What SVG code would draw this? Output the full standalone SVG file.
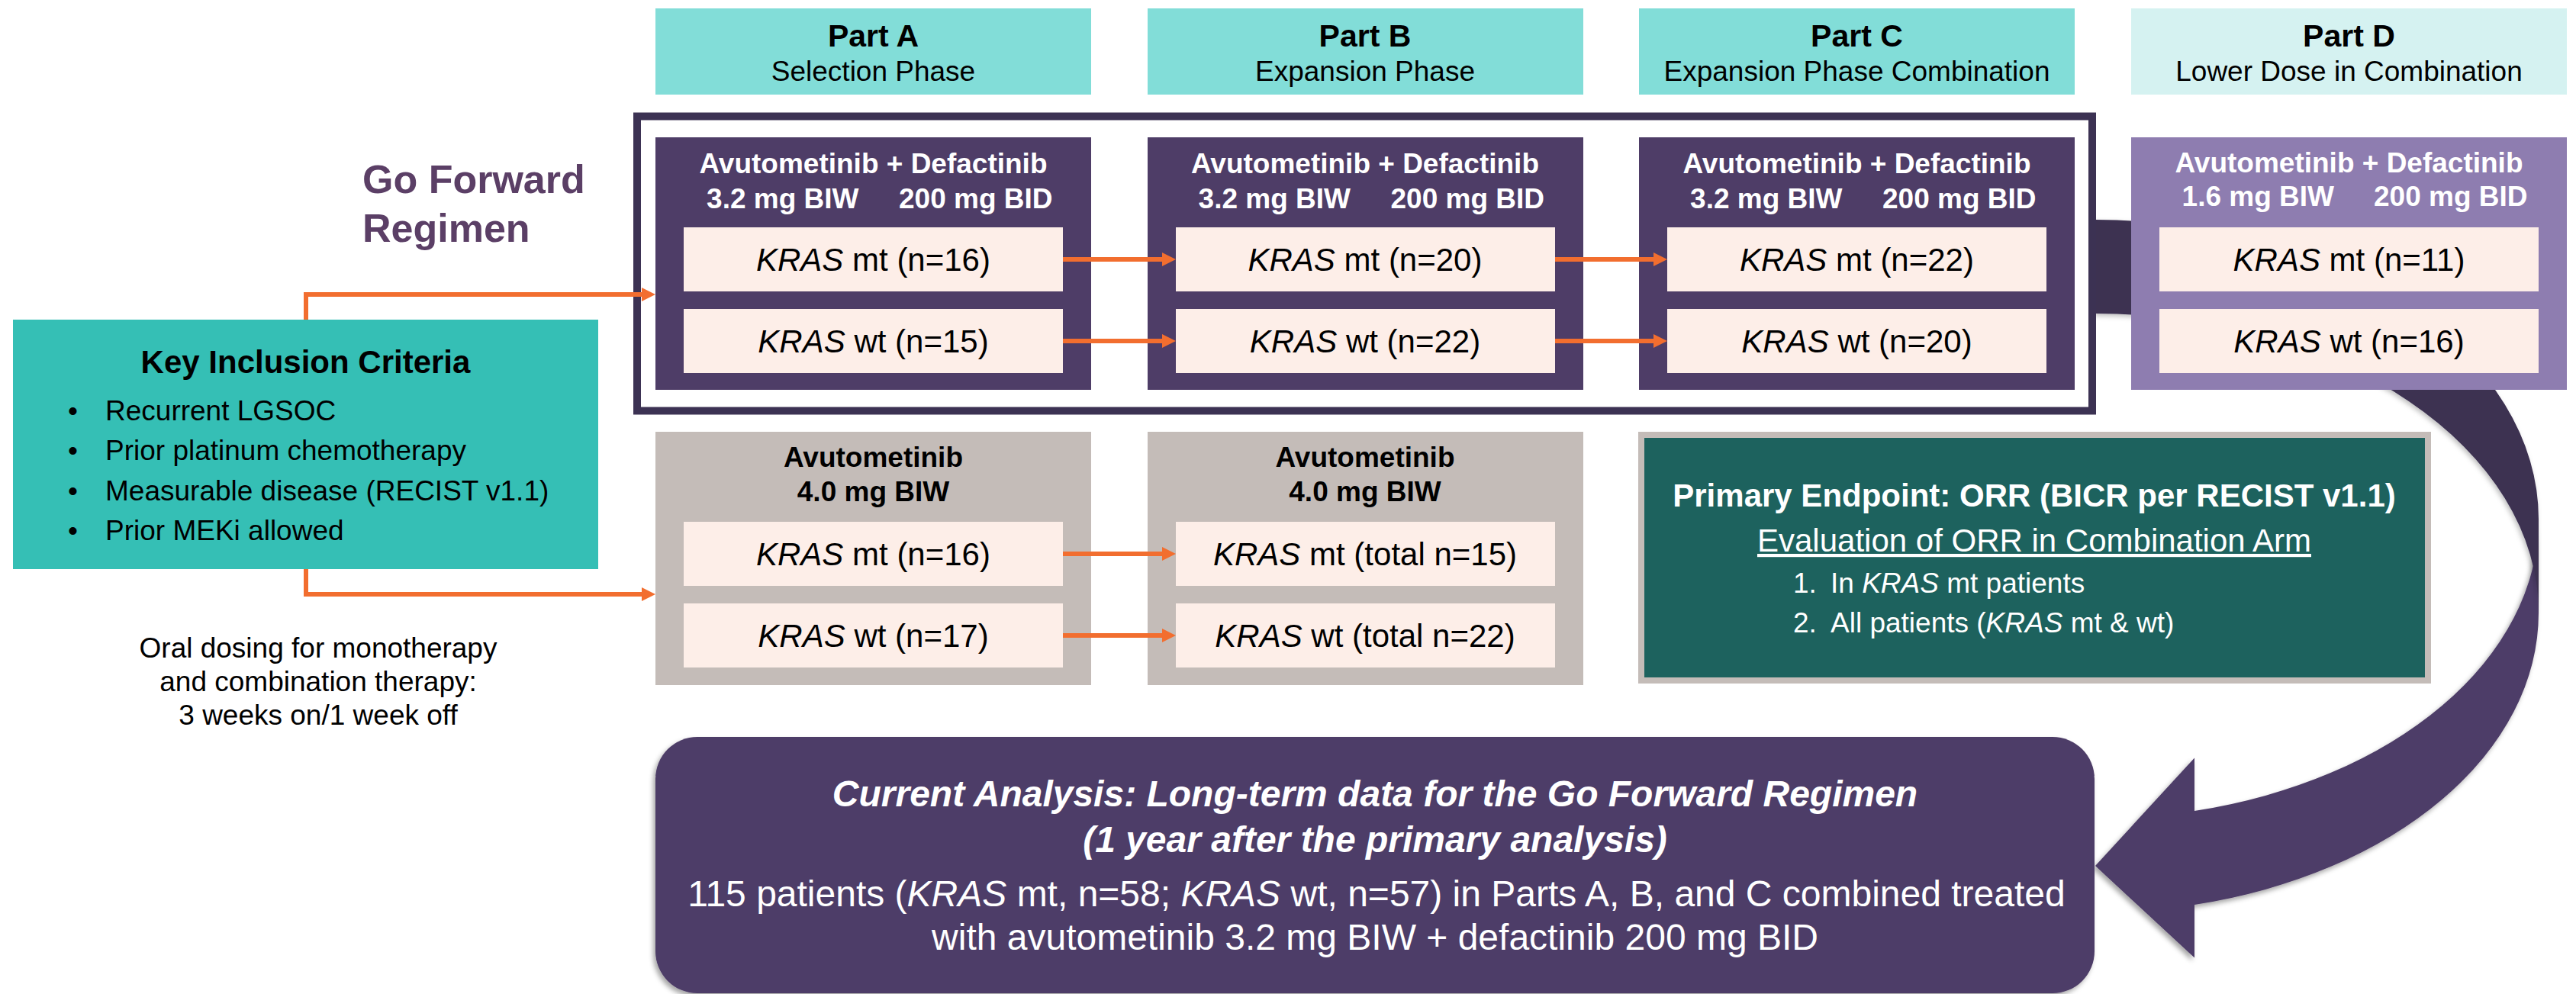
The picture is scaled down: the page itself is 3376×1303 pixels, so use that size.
<svg xmlns="http://www.w3.org/2000/svg" width="3376" height="1303" viewBox="0 0 3376 1303">
<defs>
<style>
text { font-family: "Liberation Sans", Arial, Helvetica, sans-serif; }
.hdr { fill: #82DDD8; }
.hdrD { fill: #D5F2F1; }
.tt { font-size: 41px; font-weight: bold; fill: #000; text-anchor: middle; }
.ts { font-size: 37px; fill: #000; text-anchor: middle; }
.dark { fill: #4E3D67; }
.lav { fill: #8E7DB0; }
.gray { fill: #C4BCB8; }
.inner { fill: #FDEEE8; }
.drug { font-size: 37px; font-weight: bold; fill: #fff; text-anchor: middle; }
.dl { font-size: 37px; font-weight: bold; fill: #fff; text-anchor: end; }
.dr { font-size: 37px; font-weight: bold; fill: #fff; text-anchor: start; }
.mono { font-size: 37px; font-weight: bold; fill: #000; text-anchor: middle; }
.kras { font-size: 42px; fill: #000; text-anchor: middle; }
.it { font-style: italic; }
.conn { stroke: #F26E2F; stroke-width: 6; fill: none; }
.bul { font-size: 37px; fill: #000; }
.wt { fill: #fff; }
</style>
<marker id="ah" markerUnits="userSpaceOnUse" viewBox="0 0 18 18" markerWidth="18" markerHeight="18" refX="6" refY="9" orient="auto">
<path d="M0,0 L18,9 L0,18 Z" fill="#F26E2F"/>
</marker>
<filter id="sh" x="-5%" y="-5%" width="110%" height="115%">
<feDropShadow dx="-3" dy="4" stdDeviation="3" flood-color="#000" flood-opacity="0.35"/>
</filter>
<filter id="sh2" x="-5%" y="-5%" width="110%" height="115%">
<feDropShadow dx="-2" dy="3" stdDeviation="3" flood-color="#000" flood-opacity="0.25"/>
</filter>
</defs>

<!-- big curved arrow -->
<g id="curved-arrow">
<path d="M2876,1063 A581,392.5 0 0 0 3327,680.5 L3327,803.5 A581,392.5 0 0 1 2876,1186 L2876,1255.5 L2746,1135 L2876,993.5 Z" fill="#4E3D67" filter="url(#sh)"/>
<path d="M2746,288 A581,392.5 0 0 1 3327,680.5 L3327,803.5 A581,392.5 0 0 0 2746,411 Z" fill="#3C3151" filter="url(#sh2)"/>
</g>

<!-- headers -->
<g id="hdr-a"><rect class="hdr" x="859" y="11" width="571" height="113"/><text class="tt" x="1144.5" y="61">Part A</text><text class="ts" x="1144.5" y="106">Selection Phase</text></g>
<g id="hdr-b"><rect class="hdr" x="1504" y="11" width="571" height="113"/><text class="tt" x="1789" y="61">Part B</text><text class="ts" x="1789" y="106">Expansion Phase</text></g>
<g id="hdr-c"><rect class="hdr" x="2148" y="11" width="571" height="113"/><text class="tt" x="2433.5" y="61">Part C</text><text class="ts" x="2433.5" y="106">Expansion Phase Combination</text></g>
<g id="hdr-d"><rect class="hdrD" x="2793" y="11" width="571" height="113"/><text class="tt" x="3078.5" y="61">Part D</text><text class="ts" x="3078.5" y="106">Lower Dose in Combination</text></g>

<!-- go forward frame -->
<g id="go-forward-frame"><rect x="835" y="152.5" width="1907" height="386" fill="none" stroke="#3C3253" stroke-width="10"/></g>
<g id="go-forward-label">
<text x="475" y="253" font-size="52" font-weight="bold" fill="#5B3F66">Go Forward</text>
<text x="475" y="317" font-size="52" font-weight="bold" fill="#5B3F66">Regimen</text>
</g>

<!-- Part A combo -->
<g id="a-combo">
<rect class="dark" x="859" y="180" width="571" height="331"/>
<text class="drug" x="1144.5" y="227">Avutometinib + Defactinib</text>
<text class="dl" x="1125.5" y="272.5">3.2 mg BIW</text><text class="dr" x="1178" y="272.5">200 mg BID</text>
<rect class="inner" x="896" y="298" width="497" height="84"/>
<text class="kras" x="1144.5" y="355"><tspan class="it">KRAS</tspan> mt (n=16)</text>
<rect class="inner" x="896" y="405" width="497" height="84"/>
<text class="kras" x="1144.5" y="462"><tspan class="it">KRAS</tspan> wt (n=15)</text>
</g>
<g id="b-combo">
<rect class="dark" x="1504" y="180" width="571" height="331"/>
<text class="drug" x="1789" y="227">Avutometinib + Defactinib</text>
<text class="dl" x="1770" y="272.5">3.2 mg BIW</text><text class="dr" x="1822.5" y="272.5">200 mg BID</text>
<rect class="inner" x="1541" y="298" width="497" height="84"/>
<text class="kras" x="1789" y="355"><tspan class="it">KRAS</tspan> mt (n=20)</text>
<rect class="inner" x="1541" y="405" width="497" height="84"/>
<text class="kras" x="1789" y="462"><tspan class="it">KRAS</tspan> wt (n=22)</text>
</g>
<g id="c-combo">
<rect class="dark" x="2148" y="180" width="571" height="331"/>
<text class="drug" x="2433.5" y="227">Avutometinib + Defactinib</text>
<text class="dl" x="2414.5" y="272.5">3.2 mg BIW</text><text class="dr" x="2467" y="272.5">200 mg BID</text>
<rect class="inner" x="2185" y="298" width="497" height="84"/>
<text class="kras" x="2433.5" y="355"><tspan class="it">KRAS</tspan> mt (n=22)</text>
<rect class="inner" x="2185" y="405" width="497" height="84"/>
<text class="kras" x="2433.5" y="462"><tspan class="it">KRAS</tspan> wt (n=20)</text>
</g>
<g id="d-combo">
<rect class="lav" x="2793" y="180" width="571" height="331"/>
<text class="drug" x="3078.5" y="226">Avutometinib + Defactinib</text>
<text class="dl" x="3059" y="270">1.6 mg BIW</text><text class="dr" x="3111" y="270">200 mg BID</text>
<rect class="inner" x="2830" y="298" width="497" height="84"/>
<text class="kras" x="3078.5" y="355"><tspan class="it">KRAS</tspan> mt (n=11)</text>
<rect class="inner" x="2830" y="405" width="497" height="84"/>
<text class="kras" x="3078.5" y="462"><tspan class="it">KRAS</tspan> wt (n=16)</text>
</g>

<!-- monotherapy -->
<g id="a-mono">
<rect class="gray" x="859" y="566" width="571" height="332"/>
<text class="mono" x="1144.5" y="612">Avutometinib</text>
<text class="mono" x="1144.5" y="657">4.0 mg BIW</text>
<rect class="inner" x="896" y="684" width="497" height="84"/>
<text class="kras" x="1144.5" y="741"><tspan class="it">KRAS</tspan> mt (n=16)</text>
<rect class="inner" x="896" y="791" width="497" height="84"/>
<text class="kras" x="1144.5" y="848"><tspan class="it">KRAS</tspan> wt (n=17)</text>
</g>
<g id="b-mono">
<rect class="gray" x="1504" y="566" width="571" height="332"/>
<text class="mono" x="1789" y="612">Avutometinib</text>
<text class="mono" x="1789" y="657">4.0 mg BIW</text>
<rect class="inner" x="1541" y="684" width="497" height="84"/>
<text class="kras" x="1789" y="741"><tspan class="it">KRAS</tspan> mt (total n=15)</text>
<rect class="inner" x="1541" y="791" width="497" height="84"/>
<text class="kras" x="1789" y="848"><tspan class="it">KRAS</tspan> wt (total n=22)</text>
</g>

<!-- endpoint -->
<g id="endpoint">
<rect x="2147" y="566" width="1039" height="330" fill="#C4BCB8"/>
<rect x="2155" y="574" width="1023" height="314" fill="#1D625E"/>
<text class="wt" x="2666" y="664" font-size="42" font-weight="bold" text-anchor="middle">Primary Endpoint: ORR (BICR per RECIST v1.1)</text>
<text class="wt" x="2666" y="723" font-size="42" text-anchor="middle" text-decoration="underline">Evaluation of ORR in Combination Arm</text>
<text class="wt" x="2350" y="777" font-size="37">1.</text>
<text class="wt" x="2399" y="777" font-size="37">In <tspan class="it">KRAS</tspan> mt patients</text>
<text class="wt" x="2350" y="829" font-size="37">2.</text>
<text class="wt" x="2399" y="829" font-size="37">All patients (<tspan class="it">KRAS</tspan> mt &amp; wt)</text>
</g>

<!-- key inclusion -->
<g id="key-inclusion">
<rect x="17" y="419" width="767" height="327" fill="#35BFB5"/>
<text x="400.5" y="489" font-size="42" font-weight="bold" text-anchor="middle">Key Inclusion Criteria</text>
<text class="bul" x="89" y="551">•</text><text class="bul" x="138" y="551">Recurrent LGSOC</text>
<text class="bul" x="89" y="603">•</text><text class="bul" x="138" y="603">Prior platinum chemotherapy</text>
<text class="bul" x="89" y="656">•</text><text class="bul" x="138" y="656">Measurable disease (RECIST v1.1)</text>
<text class="bul" x="89" y="708">•</text><text class="bul" x="138" y="708">Prior MEKi allowed</text>
</g>

<g id="dosing-note">
<text class="ts" x="417" y="862">Oral dosing for monotherapy</text>
<text class="ts" x="417" y="906">and combination therapy:</text>
<text class="ts" x="417" y="950">3 weeks on/1 week off</text>
</g>

<!-- current analysis -->
<g id="current-analysis">
<rect x="859" y="966" width="1886" height="336" rx="55" ry="55" fill="#4E3D67" filter="url(#sh)"/>
<text class="wt" x="1802" y="1057" font-size="48" font-weight="bold" font-style="italic" text-anchor="middle">Current Analysis: Long-term data for the Go Forward Regimen</text>
<text class="wt" x="1802" y="1117" font-size="48" font-weight="bold" font-style="italic" text-anchor="middle">(1 year after the primary analysis)</text>
<text class="wt" x="1804" y="1188" font-size="48" text-anchor="middle">115 patients (<tspan class="it">KRAS</tspan> mt, n=58; <tspan class="it">KRAS</tspan> wt, n=57) in Parts A, B, and C combined treated</text>
<text class="wt" x="1802" y="1245" font-size="48" text-anchor="middle">with avutometinib 3.2 mg BIW + defactinib 200 mg BID</text>
</g>

<!-- connectors -->
<g id="connectors">
<path class="conn" d="M401,419 V386 H847" marker-end="url(#ah)"/>
<path class="conn" d="M401,746 V779 H847" marker-end="url(#ah)"/>
<path class="conn" d="M1393,340 H1529" marker-end="url(#ah)"/>
<path class="conn" d="M1393,447 H1529" marker-end="url(#ah)"/>
<path class="conn" d="M2038,340 H2173" marker-end="url(#ah)"/>
<path class="conn" d="M2038,447 H2173" marker-end="url(#ah)"/>
<path class="conn" d="M1393,726 H1529" marker-end="url(#ah)"/>
<path class="conn" d="M1393,833 H1529" marker-end="url(#ah)"/>
</g>
</svg>
